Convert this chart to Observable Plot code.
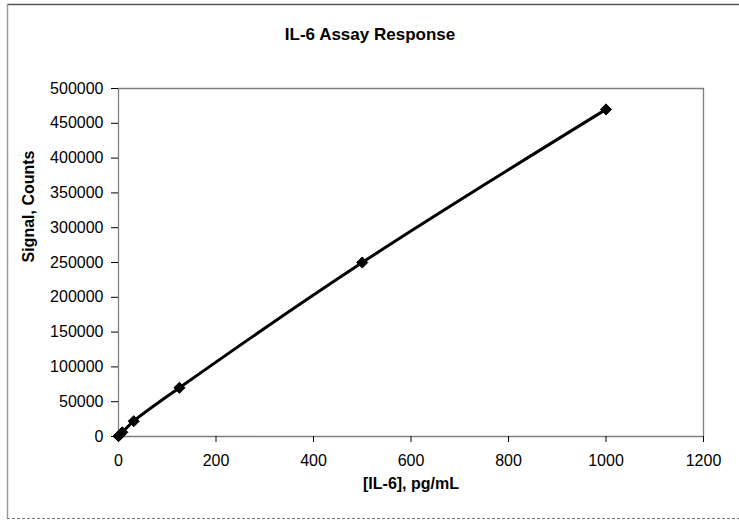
<!DOCTYPE html>
<html>
<head>
<meta charset="utf-8">
<script src="https://cdn.jsdelivr.net/npm/d3@7"></script>
<script src="https://cdn.jsdelivr.net/npm/@observablehq/plot@0.6"></script>
<style>
  html, body { margin: 0; padding: 0; background: #fff; }
  #chart { width: 739px; height: 520px; }
</style>
</head>
<body>
<div id="chart"></div>
<script>
const concentration = [0, 1.95, 7.8, 31.25, 125, 500, 1000];
const signal = [500, 2000, 6000, 22000, 70000, 250000, 470000];
const xTicks = [0, 200, 400, 600, 800, 1000, 1200];
const yTicks = [0, 50000, 100000, 150000, 200000, 250000, 300000, 350000, 400000, 450000, 500000];

const data = concentration.map((c, i) => ({x: c, y: signal[i]}));

const font = "'Liberation Sans', Arial, sans-serif";

const plot = Plot.plot({
  width: 739,
  height: 520,
  marginLeft: 118,
  marginRight: 36,
  marginTop: 88,
  marginBottom: 84,
  style: {fontFamily: font, fontSize: "16px", color: "#000", background: "#fff"},
  x: {domain: [0, 1200], ticks: xTicks, tickFormat: d => String(d), label: null, tickSize: 6, tickPadding: 12},
  y: {domain: [0, 500000], ticks: yTicks, tickFormat: d => String(d), label: null, tickSize: 7, tickPadding: 8},
  marks: [
    Plot.frame({stroke: "#000", strokeDasharray: "1,1", strokeWidth: 1.3}),
    Plot.line(data, {x: "x", y: "y", stroke: "#000", strokeWidth: 3, curve: "catmull-rom"}),
    Plot.dot(data, {x: "x", y: "y", symbol: "diamond2", r: 5, fill: "#000", stroke: "#000", strokeWidth: 1}),
    Plot.text(["IL-6 Assay Response"], {frameAnchor: "top", dx: -41, dy: -61, fontWeight: "bold", fontSize: 17, fill: "#000"}),
    Plot.text(["[IL-6], pg/mL"], {frameAnchor: "bottom", dy: 52, fontWeight: "bold", fontSize: 16, fill: "#000"}),
    Plot.text(["Signal, Counts"], {frameAnchor: "left", dx: -90, rotate: -90, fontWeight: "bold", fontSize: 16, fill: "#000"})
  ]
});

document.getElementById("chart").appendChild(plot);

// outer chart-area border (decoration)
const svg = d3.select(plot);
svg.append("line").attr("x1", 7).attr("y1", 4.5).attr("x2", 739).attr("y2", 4.5).attr("stroke", "#555").attr("stroke-width", 1.5);
svg.append("line").attr("x1", 7.5).attr("y1", 4).attr("x2", 7.5).attr("y2", 519).attr("stroke", "#999").attr("stroke-width", 1.5);
svg.append("line").attr("x1", 7).attr("y1", 518.5).attr("x2", 739).attr("y2", 518.5).attr("stroke", "#777").attr("stroke-width", 1).attr("stroke-dasharray", "3,2");
</script>
</body>
</html>
